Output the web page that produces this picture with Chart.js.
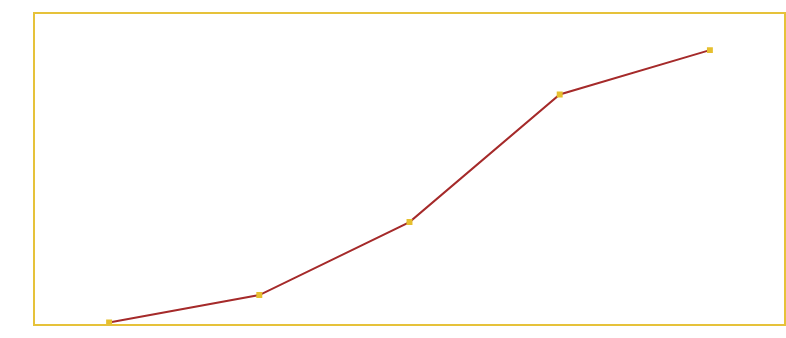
<!DOCTYPE html>
<html>
<head>
<meta charset="utf-8">
<script src="https://cdn.jsdelivr.net/npm/chart.js@4.4.0/dist/chart.umd.min.js"></script>
<style>
  html, body { margin: 0; padding: 0; background: #ffffff; }
  #wrap { width: 786px; height: 338px; }
</style>
</head>
<body>
<div id="wrap"><canvas id="lineChart" width="786" height="338"></canvas></div>
<script>
let labels = ['1', '2', '3', '4', '5'];
let values = [0.8, 9.6, 33.0, 73.9, 88.1];
let yMin = 0;
let yMax = 100;

// frame round the plot area
const frameBox = {
  id: 'frameBox',
  afterDraw(chart) {
    const a = chart.chartArea;
    const c = chart.ctx;
    c.save();
    c.strokeStyle = '#e6c23a';
    c.lineWidth = 2;
    c.strokeRect(a.left, a.top, a.right - a.left, a.bottom - a.top);
    c.restore();
  }
};

let ctx = document.getElementById('lineChart').getContext('2d');
let line = new Chart(ctx, {
  type: 'line',
  data: {
    labels: labels,
    datasets: [{
      data: values,
      tension: 0,
      borderColor: '#a52a2a',
      borderWidth: 2,
      pointStyle: 'rect',
      pointRadius: 4.2,
      pointBackgroundColor: '#e6bf2e',
      pointBorderColor: '#e6bf2e',
      pointBorderWidth: 0
    }]
  },
  options: {
    responsive: false,
    animation: false,
    layout: {
      autoPadding: false,
      padding: { left: 34, top: 13, right: 1, bottom: 13 }
    },
    plugins: {
      legend: { display: false },
      tooltip: { enabled: false }
    },
    scales: {
      x: {
        display: false,
        offset: true
      },
      y: {
        display: false,
        min: yMin,
        max: yMax
      }
    }
  },
  plugins: [frameBox]
});
</script>
</body>
</html>
